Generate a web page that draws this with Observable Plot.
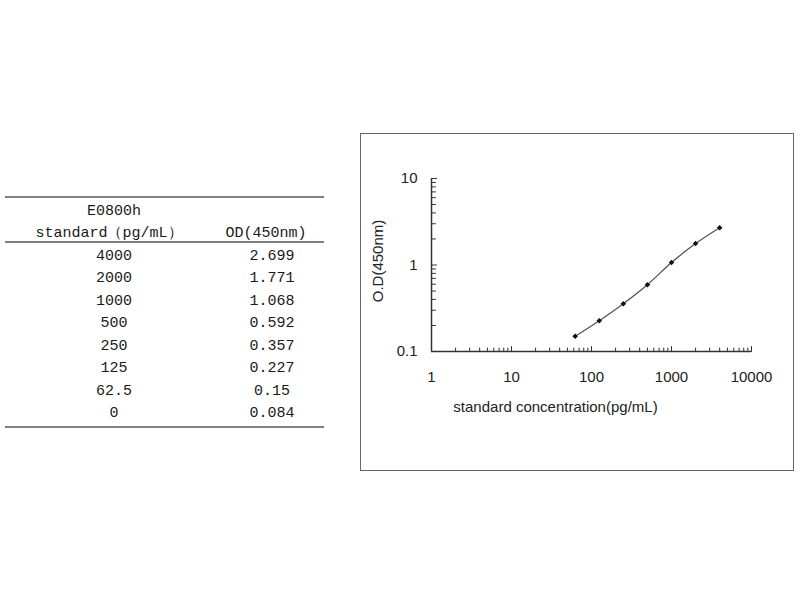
<!DOCTYPE html>
<html><head><meta charset="utf-8">
<script src="https://cdn.jsdelivr.net/npm/d3@7"></script>
<script src="https://cdn.jsdelivr.net/npm/@observablehq/plot@0.6"></script>
<style>
body{margin:0;background:#fff;width:800px;height:600px;position:relative;overflow:hidden;}
#table{position:absolute;left:0;top:0;width:340px;height:600px;font-family:"Liberation Mono","DejaVu Sans Mono",monospace;font-size:15px;color:#1a1a1a;}
.rule{position:absolute;left:5px;width:319px;height:2px;background:#808080;}
.cell{position:absolute;white-space:pre;text-align:center;height:22px;line-height:22px;}
#box{position:absolute;left:360px;top:133px;width:432px;height:336px;border:1px solid #666;background:#fff;}
#box svg{position:absolute;left:0;top:0;}
</style></head><body>
<div id="table"></div>
<div id="box"></div>
<script>
// ---- data ----
const productCode = "E0800h";
const headerCol1 = "standard（pg/mL）";
const headerCol2 = "OD(450nm)";
const concentrationLabels = ["4000", "2000", "1000", "500", "250", "125", "62.5", "0"];
const odLabels = ["2.699", "1.771", "1.068", "0.592", "0.357", "0.227", "0.15", "0.084"];
const concentrations = [4000, 2000, 1000, 500, 250, 125, 62.5, 0];
const odValues = [2.699, 1.771, 1.068, 0.592, 0.357, 0.227, 0.15, 0.084];
const xTickValues = [1, 10, 100, 1000, 10000];
const xTickLabels = ["1", "10", "100", "1000", "10000"];
const yTickValues = [0.1, 1, 10];
const yTickLabels = ["0.1", "1", "10"];
const xMajorTicks = [10, 100, 1000, 10000];
const xMinorTicks = [2, 3, 4, 5, 6, 7, 8, 9, 20, 30, 40, 50, 60, 70, 80, 90,
  200, 300, 400, 500, 600, 700, 800, 900, 2000, 3000, 4000, 5000, 6000, 7000, 8000, 9000];
const yMajorTicks = [1, 10];
const yMinorTicks = [0.2, 0.3, 0.4, 0.5, 0.6, 0.7, 0.8, 0.9, 2, 3, 4, 5, 6, 7, 8, 9];
const xLabel = "standard concentration(pg/mL)";
const yLabel = "O.D(450nm)";

// ---- table (HTML) ----
const tbl = d3.select("#table");
function rule(y) { tbl.append("div").attr("class", "rule").style("top", y + "px"); }
function cell(text, cx, cy, w) {
  tbl.append("div").attr("class", "cell").text(text)
    .style("left", (cx - w / 2) + "px").style("width", w + "px").style("top", (cy - 11) + "px");
}
rule(196);
cell(productCode, 114, 212, 200);
cell(headerCol1, 109, 234, 200);
cell(headerCol2, 266, 234, 110);
rule(241);
concentrationLabels.forEach((c, i) => {
  const cy = 257 + i * 22.45;
  cell(c, 114, cy, 200);
  cell(odLabels[i], 272, cy, 110);
});
rule(426);

// ---- chart ----
const points = concentrations.map((c, i) => ({c, od: odValues[i]})).filter(d => d.c > 0);
const tickShape = {draw(ctx, l) { ctx.moveTo(0, 0); ctx.lineTo(0, -l); }};
const ink = "#333";
const font = "'Liberation Sans', Arial, sans-serif";

const chart = Plot.plot({
  width: 432, height: 336,
  marginLeft: 70, marginRight: 42, marginTop: 44, marginBottom: 119,
  style: {fontFamily: font, fontSize: "15px", color: "#222", background: "#fff", overflow: "visible"},
  x: {type: "log", domain: [1, 10000]},
  y: {type: "log", domain: [0.1, 10]},
  marks: [
    Plot.axisX({ticks: xTickValues, tickFormat: d => xTickLabels[xTickValues.indexOf(d)], tickSize: 0, tickPadding: 20, label: null, fontSize: 15, fill: "#222"}),
    Plot.axisY({ticks: yTickValues, tickFormat: d => yTickLabels[yTickValues.indexOf(d)], tickSize: 0, tickPadding: 14, label: null, fontSize: 15, fill: "#222"}),
    Plot.vector(yMinorTicks, {x: 1, y: d => d, length: 4, rotate: 90, anchor: "start", shape: tickShape, stroke: ink, strokeWidth: 1}),
    Plot.vector(yMajorTicks, {x: 1, y: d => d, length: 5, rotate: 90, anchor: "start", shape: tickShape, stroke: ink, strokeWidth: 1}),
    Plot.vector(xMinorTicks, {x: d => d, y: 0.1, length: 3.5, anchor: "start", shape: tickShape, stroke: ink, strokeWidth: 1}),
    Plot.vector(xMajorTicks, {x: d => d, y: 0.1, length: 5, anchor: "start", shape: tickShape, stroke: ink, strokeWidth: 1}),
    Plot.ruleX([1], {stroke: ink, strokeWidth: 1.5}),
    Plot.ruleY([0.1], {stroke: ink, strokeWidth: 1.5}),
    Plot.line(points, {x: "c", y: "od", stroke: "#555", strokeWidth: 1.3, curve: "catmull-rom"}),
    Plot.dot(points, {x: "c", y: "od", symbol: "diamond2", r: 2.5, fill: "#111", stroke: "none"}),
    Plot.text([xLabel], {text: d => d, frameAnchor: "bottom", dx: -36, dy: 56, fontSize: 15, lineAnchor: "middle", fill: "#222"}),
    Plot.text([yLabel], {text: d => d, frameAnchor: "left", rotate: -90, dx: -53, dy: -4, fontSize: 15, lineAnchor: "middle", textAnchor: "middle", fill: "#222"})
  ]
});
document.getElementById("box").appendChild(chart);
</script>
</body></html>
